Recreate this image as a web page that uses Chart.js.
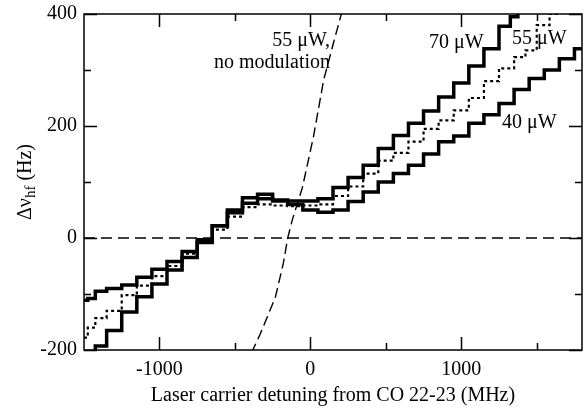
<!DOCTYPE html>
<html>
<head>
<meta charset="utf-8">
<script src="https://cdn.jsdelivr.net/npm/chart.js@4.4.1/dist/chart.umd.min.js"></script>
<style>
html,body{margin:0;padding:0;background:#fff;}
#c{display:block;}
</style>
</head>
<body>
<canvas id="c" width="585" height="412"></canvas>
<script>
// ---- data ----
const xTicks = [-1000, 0, 1000];
const xMinorTicks = [-500, 500, 1500];
const yTicks = [-200, 0, 200, 400];
const yMinorTicks = [-100, 100, 300];

const x40 = [-1500,-1450,-1400,-1300,-1200,-1100,-1000,-900,-800,-700,-600,-500,-400,-300,-200,-100,0,100,200,300,400,500,600,700,800,900,1000,1100,1200,1300,1400,1500,1600,1700,1800];
const y40 = [-111,-108,-95,-90,-84,-70,-56,-42,-24,-3,22,50,72,78,66,60,50,46,50,65,82,100,115,130,150,172,182,205,220,240,265,285,300,320,338];

const x55 = [-1500,-1450,-1400,-1300,-1200,-1100,-1000,-900,-800,-700,-600,-500,-400,-300,-200,-100,0,100,200,300,400,500,600,700,800,900,1000,1100,1200,1300,1400,1450,1550,1620,1700];
const y55 = [-178,-160,-143,-130,-102,-85,-68,-50,-28,-8,15,38,55,60,58,57,58,60,75,92,115,138,152,172,195,210,228,250,280,303,323,335,380,400,420];

const x70 = [-1450,-1400,-1300,-1200,-1100,-1000,-900,-800,-700,-600,-500,-400,-300,-200,-100,0,100,200,300,400,500,600,700,800,900,1000,1100,1200,1300,1350,1400];
const y70 = [-210,-193,-165,-132,-105,-82,-57,-35,-8,22,45,62,70,68,66,66,70,90,108,130,160,183,205,227,252,277,307,338,378,395,410];

const xNoMod = [-390,-330,-232,-179,-150,-120,-53,20,88,150,215];
const yNoMod = [-205,-170,-106,-45,0,32,90,180,282,345,410];

const xZero = [-1500, 1800];
const yZero = [0, 0];

const xMin = -1500, xMax = 1800, yMin = -200, yMax = 400;

const labels = [
  {text: '55 \u03BCW,', x: 330, y: 46, align: 'right'},
  {text: 'no modulation', x: 330, y: 68, align: 'right'},
  {text: '70 \u03BCW', x: 429, y: 48, align: 'left'},
  {text: '55 \u03BCW', x: 512, y: 44, align: 'left'},
  {text: '40 \u03BCW', x: 502, y: 128, align: 'left'}
];

const FONT = '"Liberation Serif", "Times New Roman", serif';

function pts(xs, ys){ return xs.map((x,i)=>({x:x, y:ys[i]})); }

const framePlugin = {
  id: 'frame',
  afterDatasetsDraw(chart){
    const ctx = chart.ctx, a = chart.chartArea;
    const xs = chart.scales.x, ys = chart.scales.y;
    ctx.save();
    ctx.strokeStyle = '#000';
    ctx.lineWidth = 1.5;
    ctx.setLineDash([]);
    ctx.strokeRect(a.left, a.top, a.right - a.left, a.bottom - a.top);
    const major = 13, minor = 7;
    ctx.beginPath();
    function vt(v, len){
      const px = Math.round(xs.getPixelForValue(v)) + 0.5;
      ctx.moveTo(px, a.bottom); ctx.lineTo(px, a.bottom - len);
      ctx.moveTo(px, a.top); ctx.lineTo(px, a.top + len);
    }
    function ht(v, len){
      const py = Math.round(ys.getPixelForValue(v)) + 0.5;
      ctx.moveTo(a.left, py); ctx.lineTo(a.left + len, py);
      ctx.moveTo(a.right, py); ctx.lineTo(a.right - len, py);
    }
    xTicks.forEach(v=>vt(v, major));
    xMinorTicks.forEach(v=>vt(v, minor));
    yTicks.forEach(v=>ht(v, major));
    yMinorTicks.forEach(v=>ht(v, minor));
    ctx.stroke();

    // annotations
    ctx.fillStyle = '#000';
    ctx.font = '20px ' + FONT;
    ctx.textBaseline = 'alphabetic';
    labels.forEach(l=>{ ctx.textAlign = l.align; ctx.fillText(l.text, l.x, l.y); });

    // x title
    ctx.font = '20px ' + FONT;
    ctx.textAlign = 'center';
    ctx.fillText('Laser carrier detuning from CO 22-23 (MHz)', (a.left + a.right)/2, 401);

    // y title with subscript
    ctx.translate(31, (a.top + a.bottom)/2);
    ctx.rotate(-Math.PI/2);
    const main = '\u0394\u03BD', sub = 'hf', tail = ' (Hz)';
    ctx.font = '20px ' + FONT;
    const w1 = ctx.measureText(main).width, w3 = ctx.measureText(tail).width;
    ctx.font = '15px ' + FONT;
    const w2 = ctx.measureText(sub).width;
    let x0 = -(w1 + w2 + w3)/2;
    ctx.textAlign = 'left';
    ctx.font = '20px ' + FONT;
    ctx.fillText(main, x0, 0);
    ctx.font = '15px ' + FONT;
    ctx.fillText(sub, x0 + w1, 4);
    ctx.font = '20px ' + FONT;
    ctx.fillText(tail, x0 + w1 + w2, 0);
    ctx.restore();
  }
};

new Chart(document.getElementById('c'), {
  type: 'line',
  data: {
    datasets: [
      {label: 'zero', data: pts(xZero, yZero), borderColor: '#000', borderWidth: 1.4, borderDash: [11, 6], pointRadius: 0, fill: false},
      {label: '55 uW no modulation', data: pts(xNoMod, yNoMod), borderColor: '#000', borderWidth: 1.4, borderDash: [10, 5], pointRadius: 0, fill: false, tension: 0},
      {label: '40 uW', data: pts(x40, y40), borderColor: '#000', borderWidth: 3.5, pointRadius: 0, fill: false, stepped: 'middle'},
      {label: '55 uW', data: pts(x55, y55), borderColor: '#000', borderWidth: 2.2, borderDash: [3, 3], pointRadius: 0, fill: false, stepped: 'middle'},
      {label: '70 uW', data: pts(x70, y70), borderColor: '#000', borderWidth: 3.5, pointRadius: 0, fill: false, stepped: 'middle'}
    ]
  },
  options: {
    responsive: false,
    animation: false,
    devicePixelRatio: 1,
    layout: {padding: {left: 0, right: 3, top: 14, bottom: 0}},
    plugins: {legend: {display: false}, tooltip: {enabled: false}},
    scales: {
      x: {
        type: 'linear', min: xMin, max: xMax,
        grid: {display: false, drawTicks: false},
        border: {display: false},
        ticks: {color: '#000', font: {family: FONT, size: 20}, padding: 8, maxRotation: 0, callback: v => String(v)},
        afterBuildTicks(s){ s.ticks = xTicks.map(v=>({value: v})); },
        afterFit(s){ s.height = 62; s.paddingLeft = 0; s.paddingRight = 0; }
      },
      y: {
        type: 'linear', min: yMin, max: yMax,
        grid: {display: false, drawTicks: false},
        border: {display: false},
        ticks: {color: '#000', font: {family: FONT, size: 20}, padding: 7, callback: v => String(v)},
        afterBuildTicks(s){ s.ticks = yTicks.map(v=>({value: v})); },
        afterFit(s){ s.width = 84; s.paddingTop = 0; s.paddingBottom = 0; }
      }
    }
  },
  plugins: [framePlugin]
});
</script>
</body>
</html>
